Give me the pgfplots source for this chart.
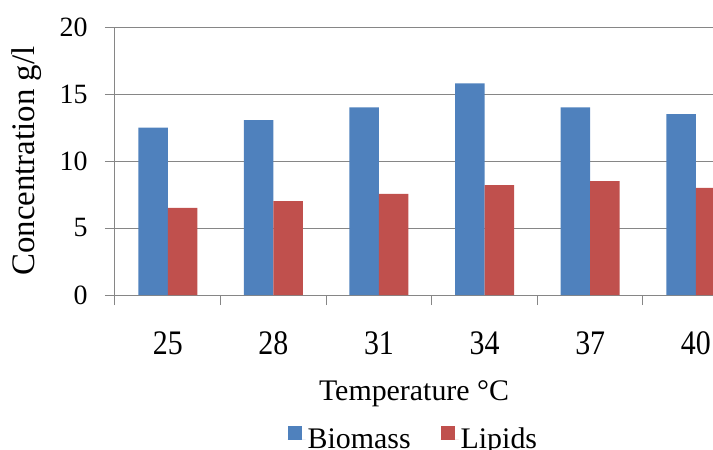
\documentclass[border=0pt]{standalone}
\usepackage{fontspec}
\setmainfont{Liberation Serif}
\usepackage{graphicx}
\usepackage{pgfplots}
\pgfplotsset{compat=1.18}
\definecolor{bio}{RGB}{79,129,189}
\definecolor{lip}{RGB}{192,80,77}
\definecolor{gridg}{RGB}{134,134,134}
\newcommand{\xl}[1]{\scalebox{1}[1.15]{#1}}
\begin{document}
\begin{tikzpicture}
\begin{axis}[
  scale only axis, width=598bp, height=268bp,
  at={(0,0)}, anchor=south west,
  xmin=-0.5, xmax=5.163, ymin=0, ymax=20,
  ybar=0pt, bar width=29.5bp,
  axis x line*=bottom, axis y line*=left,
  axis line style={gridg, line width=1bp, -},
  ytick={0,5,10,15,20},
  ymajorgrids, major grid style={gridg, line width=1bp},
  tick align=outside,
  major tick length=10bp,
  tick style={gridg, line width=1bp},
  xtick={-0.5,0.5,1.5,2.5,3.5,4.5},
  xticklabels={},
  extra x ticks={0,1,2,3,4,5},
  extra x tick labels={\xl{25},\xl{28},\xl{31},\xl{34},\xl{37},\xl{40}},
  extra x tick style={major tick length=0bp, xmajorgrids=false,
    xticklabel style={anchor=base, yshift=-59bp, font=\fontsize{30}{36}\selectfont}},
  yticklabel style={font=\fontsize{28}{33}\selectfont, xshift=-14bp},
  /pgf/number format/assume math mode=true,
  xlabel={Temperature °C}, ylabel={Concentration g/l},
  xlabel style={font=\fontsize{30}{36}\selectfont, at={(axis description cs:0.5,-0.392)}, anchor=base},
  ylabel style={font=\fontsize{33}{40}\selectfont, at={(axis description cs:-0.147,0.5)}, anchor=center},
  legend style={draw=none, at={(axis description cs:0.499,-0.538)}, anchor=center,
    font=\fontsize{30}{36}\selectfont, fill=none},
  legend columns=2,
  legend image code/.code={\path (0bp,0bp) -- (18bp,0bp); \fill[#1] (0bp,-1bp) rectangle (14bp,13bp);},
  /tikz/every even column/.append style={column sep=28bp},
]
\addplot[fill=bio, draw=none] coordinates {(0,12.5) (1,13.05) (2,14.0) (3,15.8) (4,14.0) (5,13.5)};
\addplot[fill=lip, draw=none] coordinates {(0,6.5) (1,7.0) (2,7.55) (3,8.2) (4,8.5) (5,8.0)};
\legend{Biomass, Lipids}
\end{axis}
\pgfresetboundingbox
\path[use as bounding box] (-115bp,-155bp) rectangle (598bp,295bp);
\end{tikzpicture}
\end{document}
